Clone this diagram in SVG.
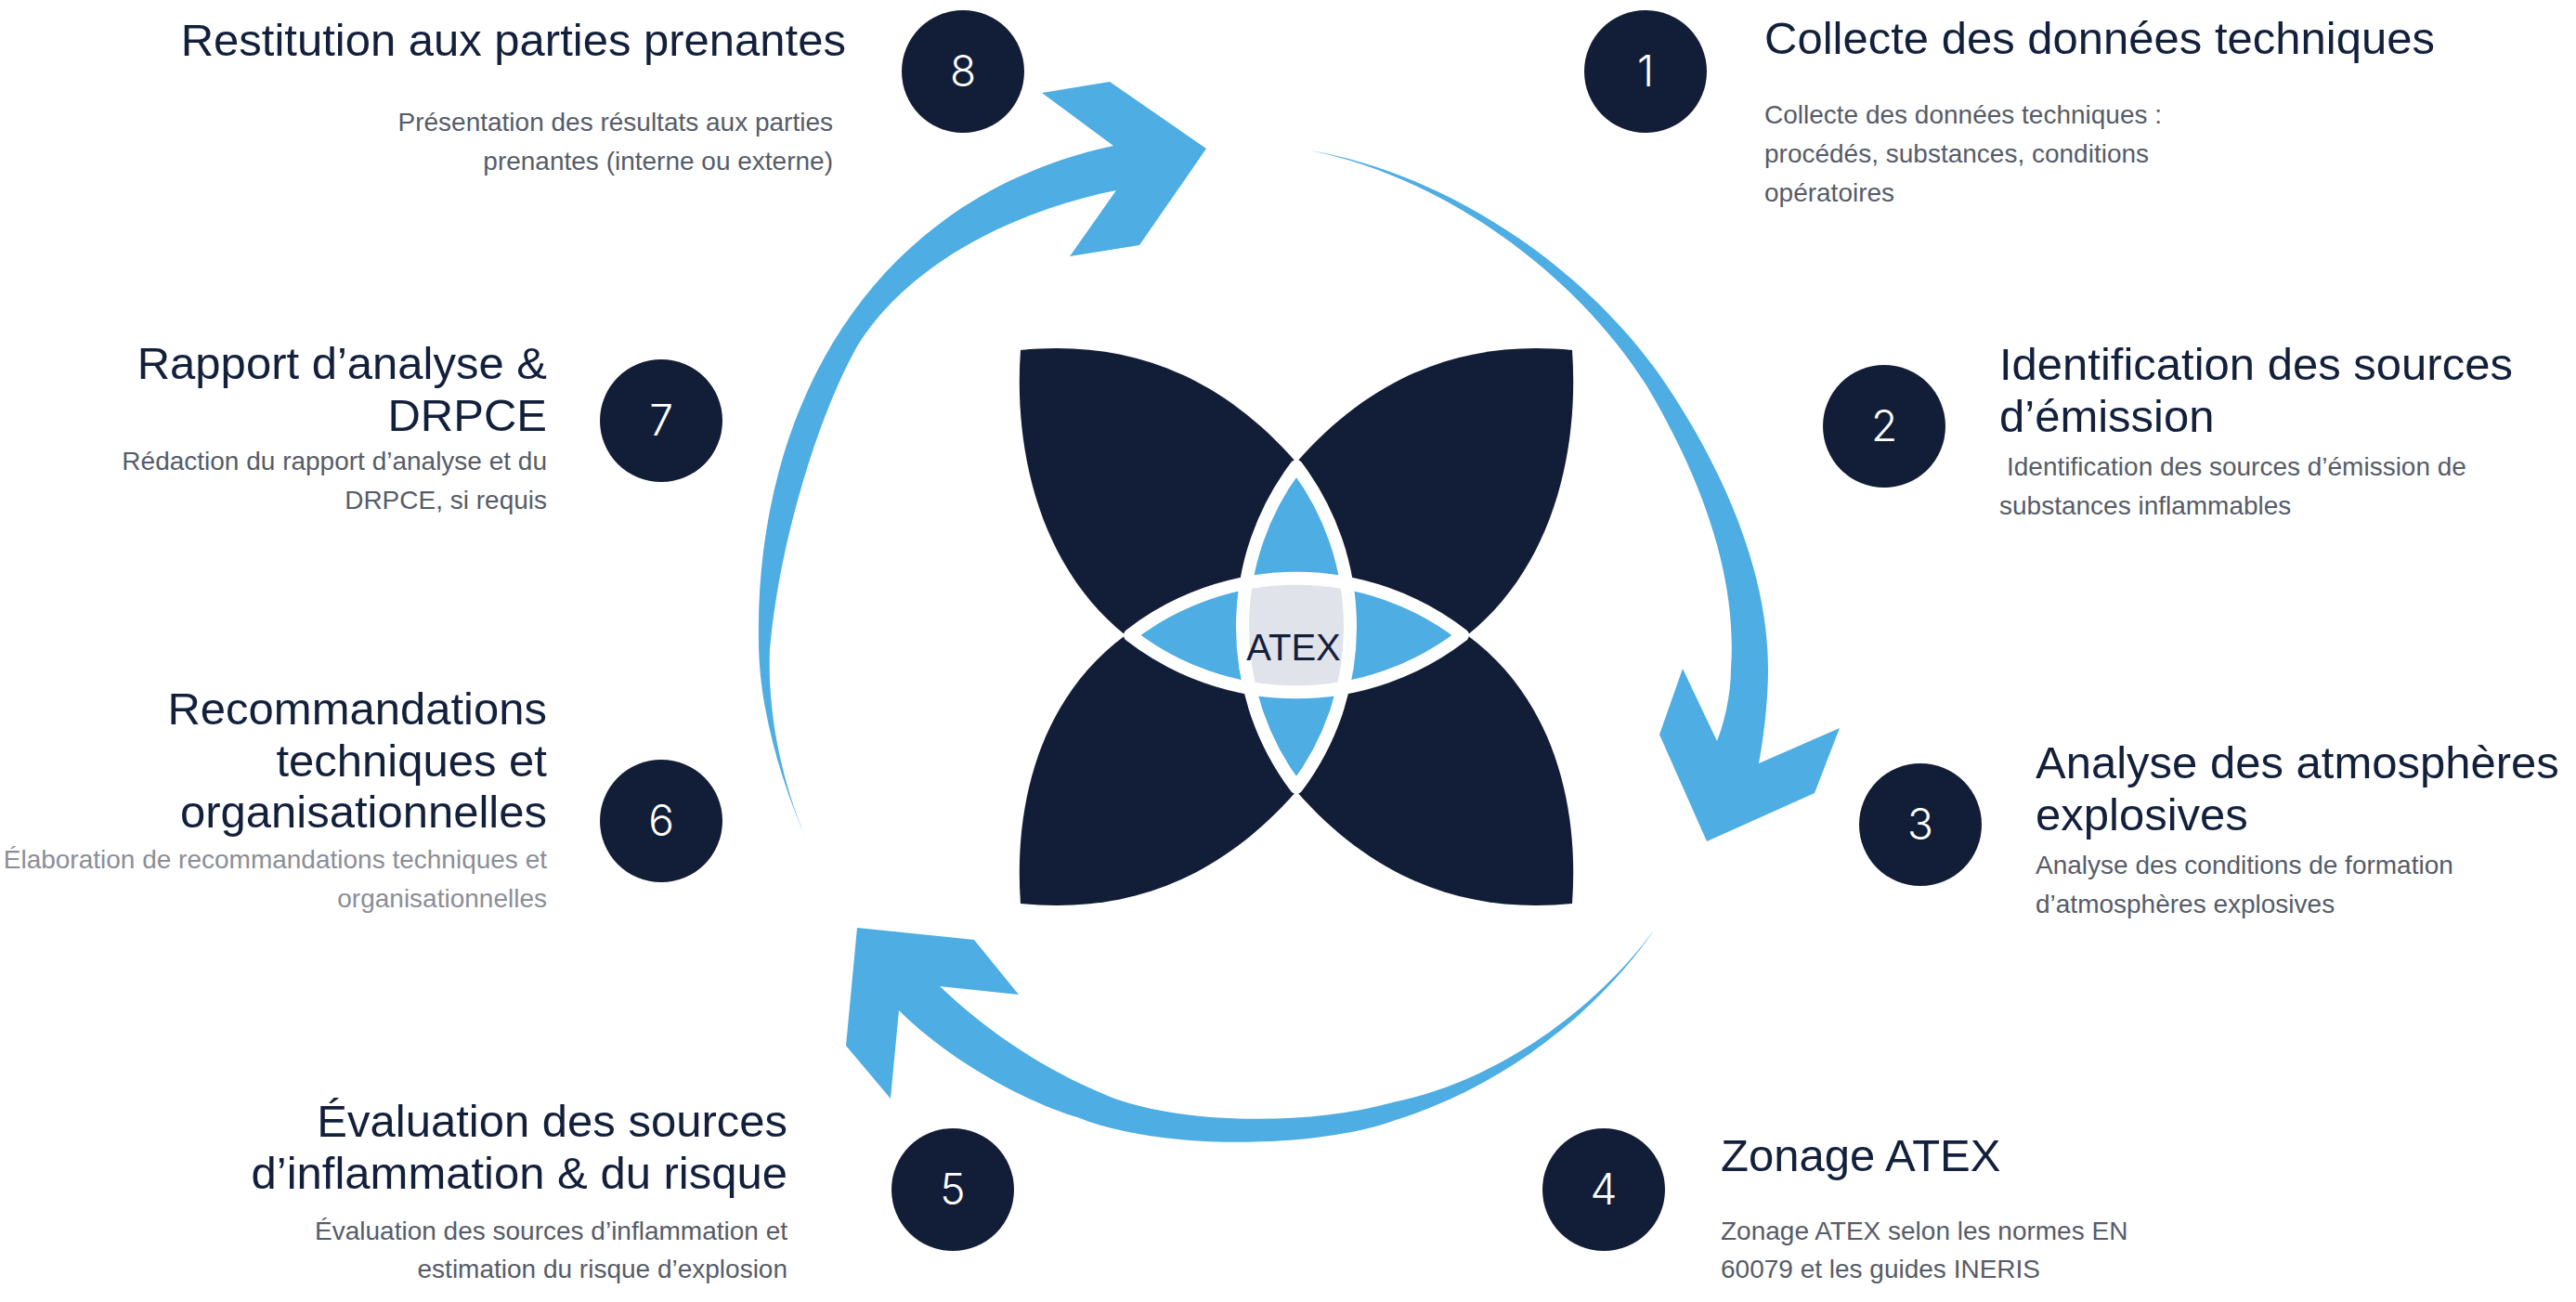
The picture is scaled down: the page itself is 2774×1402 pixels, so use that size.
<svg xmlns="http://www.w3.org/2000/svg" width="2774" height="1402" viewBox="0 0 2774 1402">
<defs>
<style>
.h{font-family:"Liberation Sans",Arial,sans-serif;font-size:49px;fill:#13203c}
.s{font-family:"Liberation Sans",Arial,sans-serif;font-size:28px;fill:#565c69}
.s2{font-family:"Liberation Sans",Arial,sans-serif;font-size:28px;fill:#8b8e98}
.end{text-anchor:end}
.num{font-family:Inter,"Open Sans","Liberation Sans",sans-serif;font-weight:300;font-size:46px;fill:#ffffff;text-anchor:middle}
.disc{fill:#121e37}
.arrow{fill:#4eade3}
.petal{fill:#121e37}
.lens{fill:#4eade3}
.ring{fill:none;stroke:#ffffff;stroke-width:14;stroke-linejoin:round}
</style>
<path id="vlens" d="M1396,502 A287,287 0 0,1 1396,848 A287,287 0 0,1 1396,502 Z"/>
<path id="hlens" d="M1217,684 A292,292 0 0,1 1575,684 A292,292 0 0,1 1217,684 Z"/>
<clipPath id="vclip"><use href="#vlens"/></clipPath>
</defs>
<rect width="2774" height="1402" fill="#ffffff"/>

<g id="connectors">
<path class="arrow" d="M1410,162 C1550,185 1700,280 1788,405 C1840,480 1904,600 1904,720 C1904,760 1898,800 1894,822 L1981,784 L1954,854 L1838,906 L1787,791 L1812,720 L1849,798 C1856,780 1864,750 1864,720 C1872,607 1820,494 1773,415 C1692,288 1548,189 1410,162 Z"/>
<path class="arrow" d="M1781,1002 C1720,1090 1620,1170 1500,1207 C1420,1236 1250,1240 1160,1203 C1100,1185 1020,1140 968,1088 L959,1183 L911,1126 L923,999 L1049,1012 L1097,1071 L1012,1062 C1060,1108 1120,1150 1193,1180 C1260,1208 1400,1215 1500,1187 C1610,1165 1715,1090 1781,1002 Z"/>
<path class="arrow" d="M869,905 C840,840 817,760 817,690 C813,450 930,215 1199,157 L1122,100 L1195,88 L1299,160 L1227,264 L1152,276 L1202,205 C1100,225 980,280 923,373 C885,440 840,575 829,700 C826,775 845,850 869,905 Z"/>
</g>

<g id="atex-center">
<path class="petal" d="M1099,377 C1210,366 1310,400 1396,498 L1396,684 L1212,684 C1122,612 1091,490 1099,377 Z"/>
<path class="petal" d="M1693,377 C1582,366 1482,400 1396,498 L1396,684 L1580,684 C1670,612 1701,490 1693,377 Z"/>
<path class="petal" d="M1099,973 C1210,984 1310,950 1396,852 L1396,684 L1212,684 C1122,750 1091,862 1099,973 Z"/>
<path class="petal" d="M1693,973 C1582,984 1482,950 1396,852 L1396,684 L1580,684 C1670,750 1701,862 1693,973 Z"/>
<use href="#vlens" class="lens"/>
<use href="#hlens" class="lens"/>
<use href="#hlens" fill="#e1e3eb" clip-path="url(#vclip)"/>
<use href="#vlens" class="ring"/>
<use href="#hlens" class="ring"/>
<text x="1393" y="711" font-family="Liberation Sans, Arial, sans-serif" font-size="40" fill="#13203c" text-anchor="middle">ATEX</text>
</g>

<g id="step-1">
<circle class="disc" cx="1772" cy="77" r="66"/>
<text class="num" x="1772" y="93">1</text>
<text class="h" x="1900" y="58">Collecte des données techniques</text>
<text class="s" x="1900" y="133">Collecte des données techniques :</text>
<text class="s" x="1900" y="175">procédés, substances, conditions</text>
<text class="s" x="1900" y="217">opératoires</text>
</g>

<g id="step-2">
<circle class="disc" cx="2029" cy="459" r="66"/>
<text class="num" x="2029" y="475">2</text>
<text class="h" x="2153" y="409">Identification des sources</text>
<text class="h" x="2153" y="465">d’émission</text>
<text class="s" x="2161" y="512">Identification des sources d’émission de</text>
<text class="s" x="2153" y="554">substances inflammables</text>
</g>

<g id="step-3">
<circle class="disc" cx="2068" cy="888" r="66"/>
<text class="num" x="2068" y="904">3</text>
<text class="h" x="2192" y="838">Analyse des atmosphères</text>
<text class="h" x="2192" y="894">explosives</text>
<text class="s" x="2192" y="941">Analyse des conditions de formation</text>
<text class="s" x="2192" y="983">d’atmosphères explosives</text>
</g>

<g id="step-4">
<circle class="disc" cx="1727" cy="1281" r="66"/>
<text class="num" x="1727" y="1297">4</text>
<text class="h" x="1853" y="1261">Zonage ATEX</text>
<text class="s" x="1853" y="1335">Zonage ATEX selon les normes EN</text>
<text class="s" x="1853" y="1376">60079 et les guides INERIS</text>
</g>

<g id="step-5">
<circle class="disc" cx="1026" cy="1281" r="66"/>
<text class="num" x="1026" y="1297">5</text>
<text class="h end" x="848" y="1224">Évaluation des sources</text>
<text class="h end" x="848" y="1280">d’inflammation &amp; du risque</text>
<text class="s end" x="848" y="1335">Évaluation des sources d’inflammation et</text>
<text class="s end" x="848" y="1376">estimation du risque d’explosion</text>
</g>

<g id="step-6">
<circle class="disc" cx="712" cy="884" r="66"/>
<text class="num" x="712" y="900">6</text>
<text class="h end" x="589" y="780">Recommandations</text>
<text class="h end" x="589" y="836">techniques et</text>
<text class="h end" x="589" y="891">organisationnelles</text>
<text class="s2 end" x="589" y="935">Élaboration de recommandations techniques et</text>
<text class="s2 end" x="589" y="977">organisationnelles</text>
</g>

<g id="step-7">
<circle class="disc" cx="712" cy="453" r="66"/>
<text class="num" x="712" y="469">7</text>
<text class="h end" x="589" y="408">Rapport d’analyse &amp;</text>
<text class="h end" x="589" y="464">DRPCE</text>
<text class="s end" x="589" y="506">Rédaction du rapport d’analyse et du</text>
<text class="s end" x="589" y="548">DRPCE, si requis</text>
</g>

<g id="step-8">
<circle class="disc" cx="1037" cy="77" r="66"/>
<text class="num" x="1037" y="93">8</text>
<text class="h end" x="911" y="60">Restitution aux parties prenantes</text>
<text class="s end" x="897" y="141">Présentation des résultats aux parties</text>
<text class="s end" x="897" y="183">prenantes (interne ou externe)</text>
</g>
</svg>
